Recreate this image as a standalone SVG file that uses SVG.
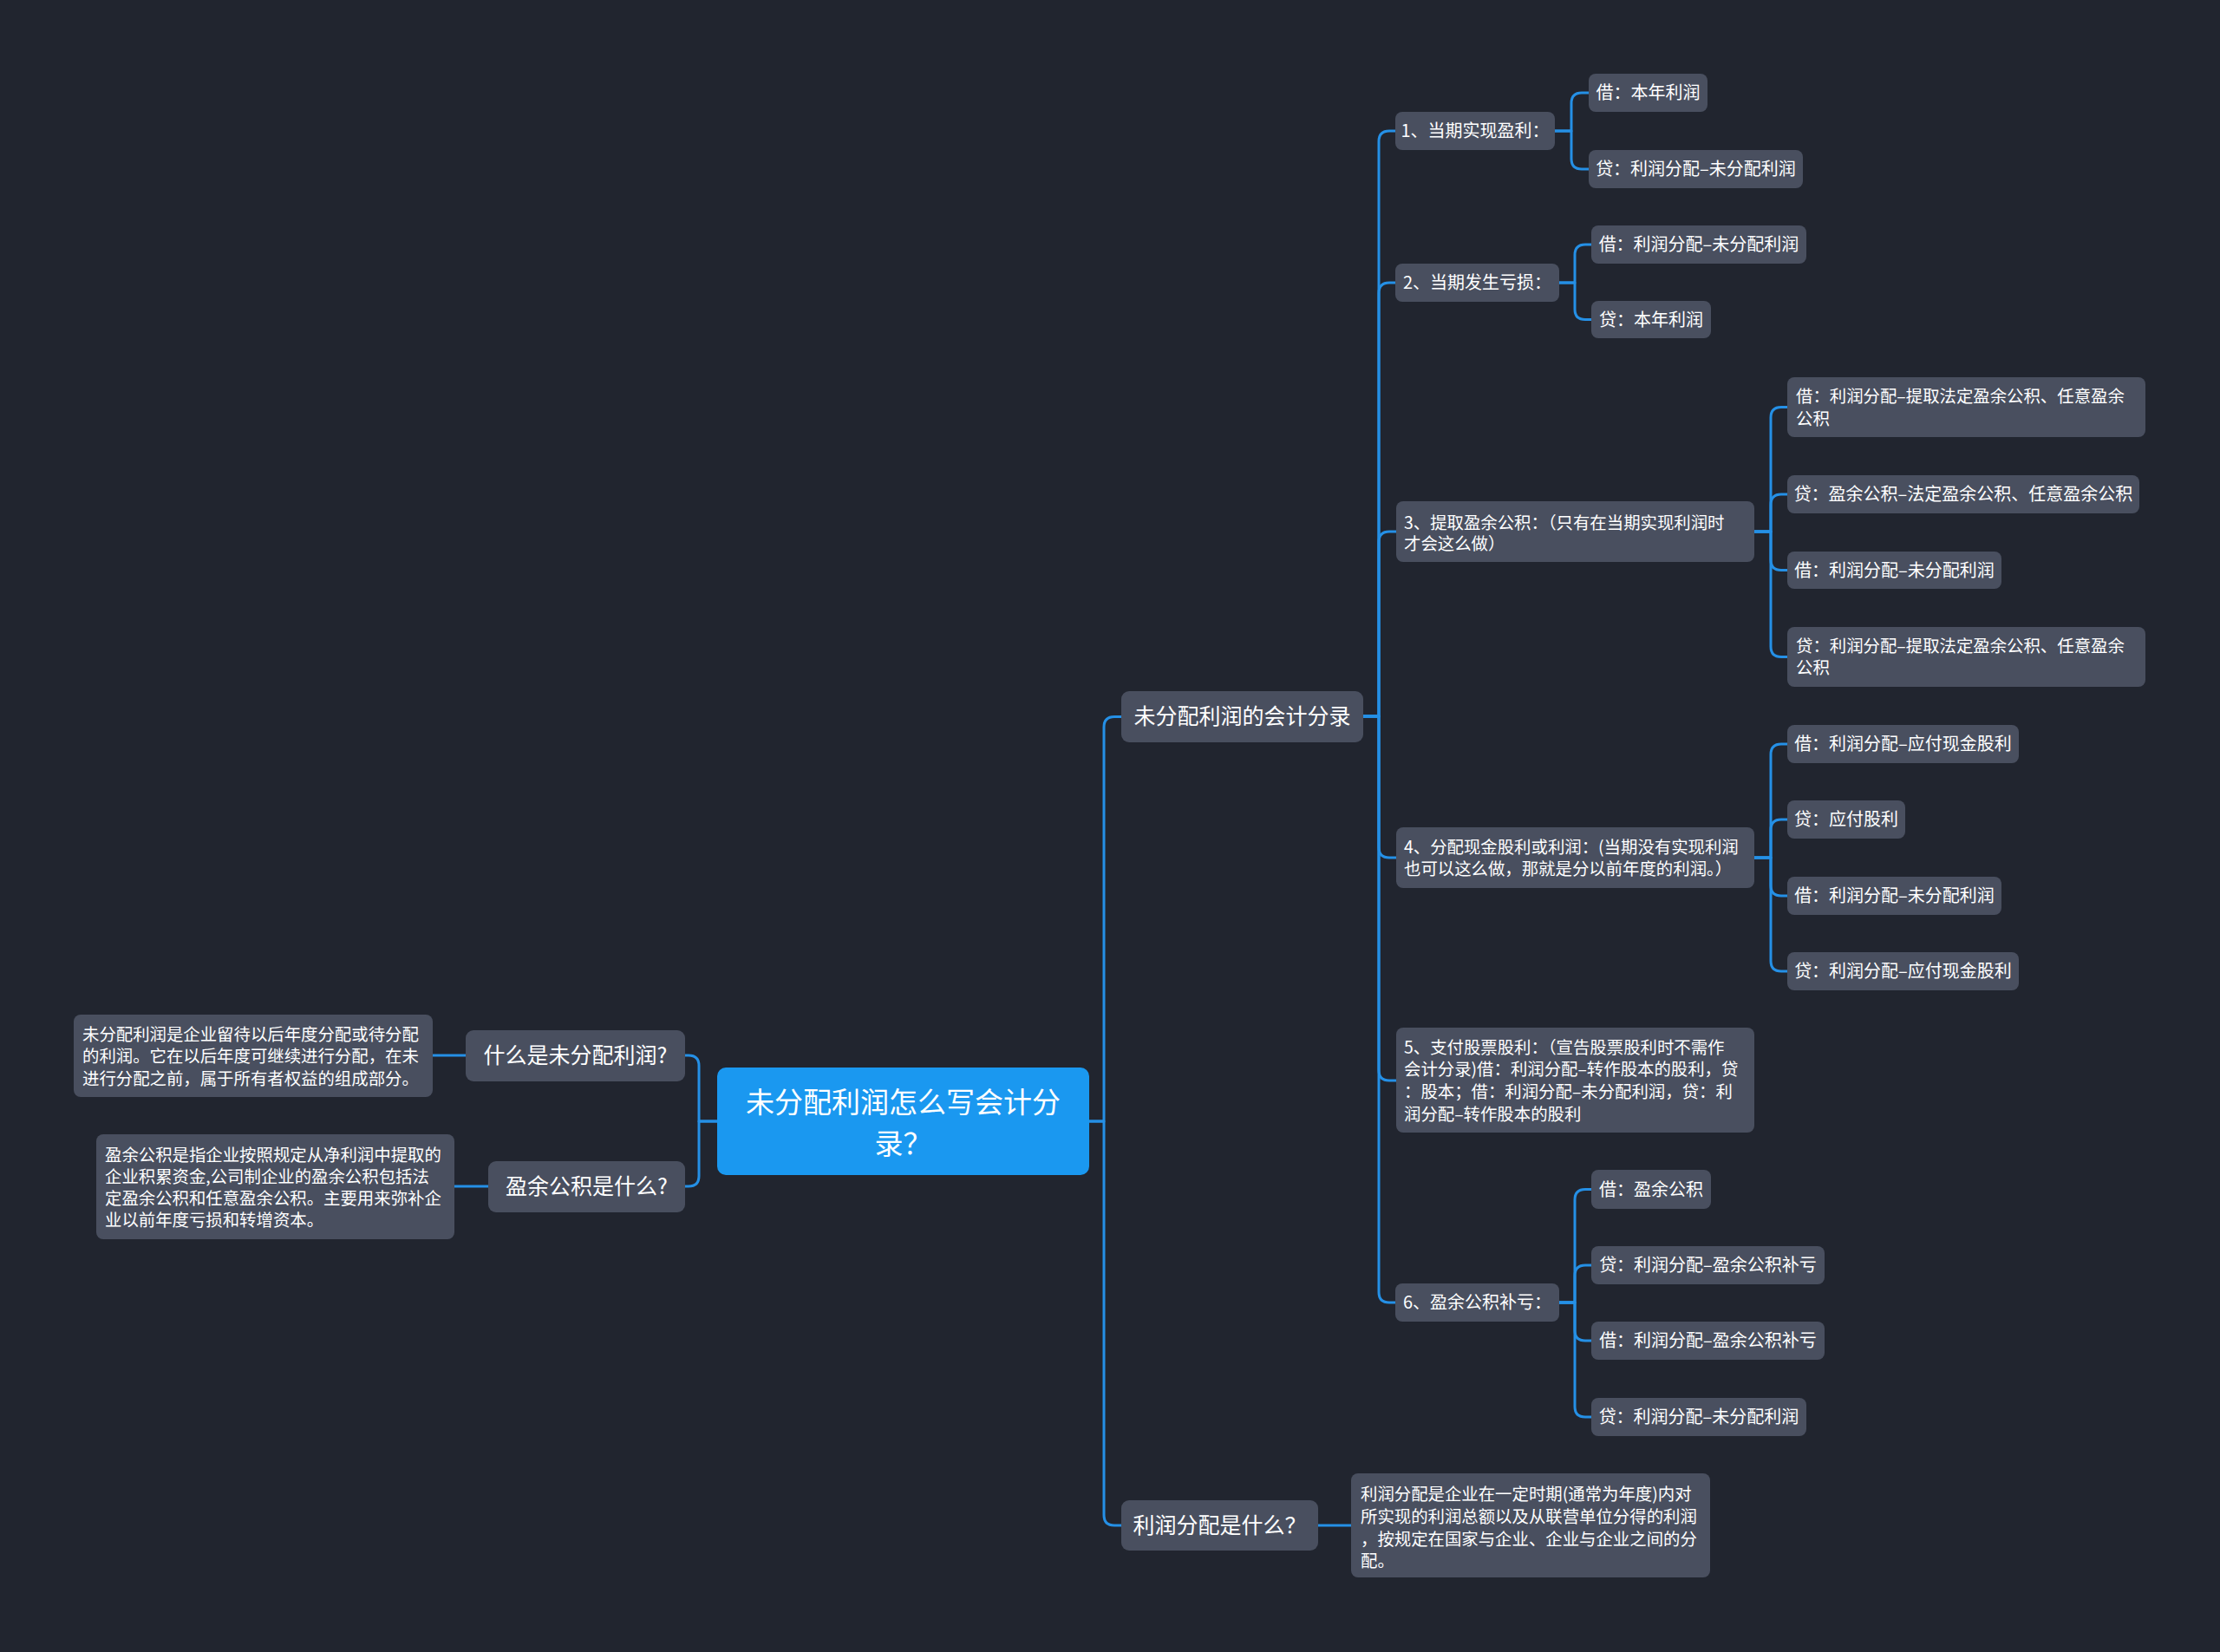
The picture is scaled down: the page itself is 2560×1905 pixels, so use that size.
<svg xmlns="http://www.w3.org/2000/svg" width="2560" height="1905" viewBox="0 0 2560 1905">
<style>
.bg{fill:#21252f}
.n{fill:#494f5f}
.root{fill:#1a98f0}
.t{font-family:"Noto Sans CJK SC","Noto Sans",sans-serif;fill:#ffffff}
.s{font-size:20px}
.p{font-size:19.4px}
.m{font-size:25px}
.r{font-size:33px}
.c{text-anchor:middle}
.ln{fill:none;stroke:#2590e6;stroke-width:3;stroke-linecap:round;stroke-linejoin:round}
</style>
<rect class="bg" x="0" y="0" width="2560" height="1905"/>
<g id="connectors">
<path class="ln" d="M1256,1293 H1273 V838.5 Q1273,826.5 1285,826.5 H1293"/>
<path class="ln" d="M1256,1293 H1273 V1747 Q1273,1759 1285,1759 H1293"/>
<path class="ln" d="M827,1293 H806 V1229 Q806,1217 794,1217 H790"/>
<path class="ln" d="M827,1293 H806 V1356 Q806,1368 794,1368 H790"/>
<path class="ln" d="M537,1217 H499"/>
<path class="ln" d="M563,1368 H524"/>
<path class="ln" d="M1520,1759 H1558"/>
<path class="ln" d="M1572,826 H1590 V163 Q1590,151 1602,151 H1609"/>
<path class="ln" d="M1572,826 H1590 V338 Q1590,326 1602,326 H1609"/>
<path class="ln" d="M1572,826 H1590 V625 Q1590,613 1602,613 H1610"/>
<path class="ln" d="M1572,826 H1590 V977 Q1590,989 1602,989 H1610"/>
<path class="ln" d="M1572,826 H1590 V1234 Q1590,1246 1602,1246 H1610"/>
<path class="ln" d="M1572,826 H1590 V1490 Q1590,1502 1602,1502 H1609"/>
<path class="ln" d="M1793,151 H1812 V119 Q1812,107 1824,107 H1832"/>
<path class="ln" d="M1793,151 H1812 V183 Q1812,195 1824,195 H1832"/>
<path class="ln" d="M1798,326 H1816 V294 Q1816,282 1828,282 H1835"/>
<path class="ln" d="M1798,326 H1816 V356.5 Q1816,368.5 1828,368.5 H1835"/>
<path class="ln" d="M2023,613 H2042 V481.5 Q2042,469.5 2054,469.5 H2061"/>
<path class="ln" d="M2023,613 H2042 V582 Q2042,570 2054,570 H2061"/>
<path class="ln" d="M2023,613 H2042 V645.5 Q2042,657.5 2054,657.5 H2061"/>
<path class="ln" d="M2023,613 H2042 V745.5 Q2042,757.5 2054,757.5 H2061"/>
<path class="ln" d="M2023,989 H2042 V870 Q2042,858 2054,858 H2061"/>
<path class="ln" d="M2023,989 H2042 V957 Q2042,945 2054,945 H2061"/>
<path class="ln" d="M2023,989 H2042 V1021 Q2042,1033 2054,1033 H2061"/>
<path class="ln" d="M2023,989 H2042 V1108 Q2042,1120 2054,1120 H2061"/>
<path class="ln" d="M1798,1502 H1816 V1383.5 Q1816,1371.5 1828,1371.5 H1835"/>
<path class="ln" d="M1798,1502 H1816 V1471 Q1816,1459 1828,1459 H1835"/>
<path class="ln" d="M1798,1502 H1816 V1534 Q1816,1546 1828,1546 H1835"/>
<path class="ln" d="M1798,1502 H1816 V1622 Q1816,1634 1828,1634 H1835"/>
</g>
<g id="root">
<rect class="root" x="827" y="1231" width="429" height="124" rx="10"/>
<text class="t r c" x="1041.5" y="1283">未分配利润怎么写会计分</text>
<text class="t r c" x="1041.5" y="1331">录？</text>
</g>
<g id="l2-entries">
<rect class="n" x="1293" y="797" width="279" height="59" rx="9"/>
<text class="t m c" x="1432.5" y="835">未分配利润的会计分录</text>
</g>
<g id="l2-profit-dist">
<rect class="n" x="1293" y="1730" width="227" height="58" rx="9"/>
<text class="t m c" x="1406.5" y="1768">利润分配是什么？</text>
</g>
<g id="l2-what-undist">
<rect class="n" x="537" y="1188" width="253" height="59" rx="9"/>
<text class="t m c" x="663.5" y="1226">什么是未分配利润?</text>
</g>
<g id="l2-what-surplus">
<rect class="n" x="563" y="1339" width="227" height="59" rx="9"/>
<text class="t m c" x="676.5" y="1377">盈余公积是什么?</text>
</g>
<g id="desc-undist">
<rect class="n" x="85" y="1170" width="414" height="95" rx="8"/>
<text class="t p" x="95" y="1200">未分配利润是企业留待以后年度分配或待分配</text>
<text class="t p" x="95" y="1225">的利润。它在以后年度可继续进行分配，在未</text>
<text class="t p" x="95" y="1251">进行分配之前，属于所有者权益的组成部分。</text>
</g>
<g id="desc-surplus">
<rect class="n" x="111" y="1308" width="413" height="121" rx="8"/>
<text class="t p" x="121" y="1339">盈余公积是指企业按照规定从净利润中提取的</text>
<text class="t p" x="121" y="1364">企业积累资金,公司制企业的盈余公积包括法</text>
<text class="t p" x="121" y="1389">定盈余公积和任意盈余公积。主要用来弥补企</text>
<text class="t p" x="121" y="1414">业以前年度亏损和转增资本。</text>
</g>
<g id="desc-profit-dist">
<rect class="n" x="1558" y="1699" width="414" height="120" rx="8"/>
<text class="t p" x="1569" y="1730">利润分配是企业在一定时期(通常为年度)内对</text>
<text class="t p" x="1569" y="1756">所实现的利润总额以及从联营单位分得的利润</text>
<text class="t p" x="1569" y="1782">，按规定在国家与企业、企业与企业之间的分</text>
<text class="t p" x="1569" y="1807">配。</text>
</g>
<g id="n1">
<rect class="n" x="1609" y="129" width="184" height="44" rx="8"/>
<text class="t s c" x="1701" y="158">1、当期实现盈利：</text>
</g>
<g id="n1a">
<rect class="n" x="1832" y="85" width="137" height="44" rx="8"/>
<text class="t s c" x="1900.5" y="114">借：本年利润</text>
</g>
<g id="n1b">
<rect class="n" x="1832" y="173" width="247" height="44" rx="8"/>
<text class="t s c" x="1955.5" y="202">贷：利润分配–未分配利润</text>
</g>
<g id="n2">
<rect class="n" x="1609" y="304" width="189" height="44" rx="8"/>
<text class="t s c" x="1703.5" y="333">2、当期发生亏损：</text>
</g>
<g id="n2a">
<rect class="n" x="1835" y="260" width="248" height="44" rx="8"/>
<text class="t s c" x="1959" y="289">借：利润分配–未分配利润</text>
</g>
<g id="n2b">
<rect class="n" x="1835" y="347" width="138" height="43" rx="8"/>
<text class="t s c" x="1904" y="375.5">贷：本年利润</text>
</g>
<g id="n3">
<rect class="n" x="1610" y="578" width="413" height="70" rx="8"/>
<text class="t p" x="1619" y="610">3、提取盈余公积：（只有在当期实现利润时</text>
<text class="t p" x="1619" y="634">才会这么做）</text>
</g>
<g id="n3a">
<rect class="n" x="2061" y="435" width="413" height="69" rx="8"/>
<text class="t p" x="2071" y="464">借：利润分配–提取法定盈余公积、任意盈余</text>
<text class="t p" x="2071" y="490">公积</text>
</g>
<g id="n3b">
<rect class="n" x="2061" y="548" width="406" height="44" rx="8"/>
<text class="t s c" x="2264" y="577">贷：盈余公积–法定盈余公积、任意盈余公积</text>
</g>
<g id="n3c">
<rect class="n" x="2061" y="636" width="247" height="43" rx="8"/>
<text class="t s c" x="2184.5" y="664.5">借：利润分配–未分配利润</text>
</g>
<g id="n3d">
<rect class="n" x="2061" y="723" width="413" height="69" rx="8"/>
<text class="t p" x="2071" y="752">贷：利润分配–提取法定盈余公积、任意盈余</text>
<text class="t p" x="2071" y="777">公积</text>
</g>
<g id="n4">
<rect class="n" x="1610" y="954" width="413" height="70" rx="8"/>
<text class="t p" x="1619" y="984">4、分配现金股利或利润：(当期没有实现利润</text>
<text class="t p" x="1619" y="1009">也可以这么做，那就是分以前年度的利润。）</text>
</g>
<g id="n4a">
<rect class="n" x="2061" y="836" width="267" height="44" rx="8"/>
<text class="t s c" x="2194.5" y="865">借：利润分配–应付现金股利</text>
</g>
<g id="n4b">
<rect class="n" x="2061" y="923" width="136" height="44" rx="8"/>
<text class="t s c" x="2129" y="952">贷：应付股利</text>
</g>
<g id="n4c">
<rect class="n" x="2061" y="1011" width="247" height="44" rx="8"/>
<text class="t s c" x="2184.5" y="1040">借：利润分配–未分配利润</text>
</g>
<g id="n4d">
<rect class="n" x="2061" y="1098" width="267" height="44" rx="8"/>
<text class="t s c" x="2194.5" y="1127">贷：利润分配–应付现金股利</text>
</g>
<g id="n5">
<rect class="n" x="1610" y="1185" width="413" height="121" rx="8"/>
<text class="t p" x="1619" y="1215">5、支付股票股利：（宣告股票股利时不需作</text>
<text class="t p" x="1619" y="1240">会计分录)借：利润分配–转作股本的股利，贷</text>
<text class="t p" x="1619" y="1266">：股本；借：利润分配–未分配利润，贷：利</text>
<text class="t p" x="1619" y="1292">润分配–转作股本的股利</text>
</g>
<g id="n6">
<rect class="n" x="1609" y="1480" width="189" height="44" rx="8"/>
<text class="t s c" x="1703.5" y="1509">6、盈余公积补亏：</text>
</g>
<g id="n6a">
<rect class="n" x="1835" y="1349" width="138" height="45" rx="8"/>
<text class="t s c" x="1904" y="1378.5">借：盈余公积</text>
</g>
<g id="n6b">
<rect class="n" x="1835" y="1437" width="269" height="44" rx="8"/>
<text class="t s c" x="1969.5" y="1466">贷：利润分配–盈余公积补亏</text>
</g>
<g id="n6c">
<rect class="n" x="1835" y="1524" width="269" height="44" rx="8"/>
<text class="t s c" x="1969.5" y="1553">借：利润分配–盈余公积补亏</text>
</g>
<g id="n6d">
<rect class="n" x="1835" y="1612" width="248" height="44" rx="8"/>
<text class="t s c" x="1959" y="1641">贷：利润分配–未分配利润</text>
</g>
</svg>
